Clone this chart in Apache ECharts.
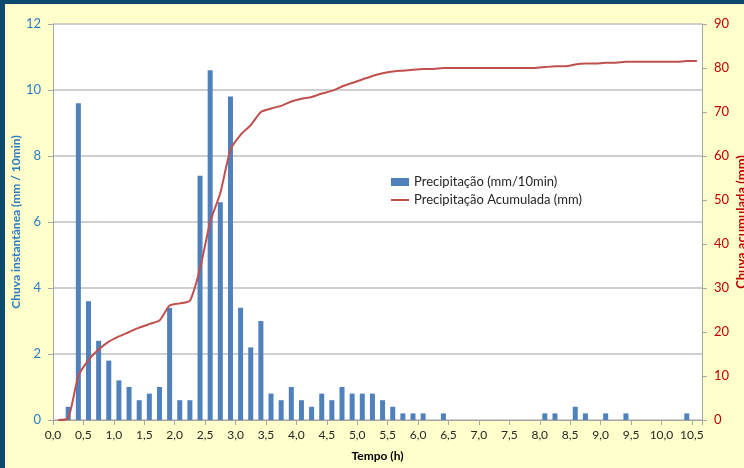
<!DOCTYPE html>
<html>
<head>
<meta charset="utf-8">
<script src="https://cdn.jsdelivr.net/npm/echarts@6/dist/echarts.min.js"></script>
<style>
  html, body { margin: 0; padding: 0; width: 744px; height: 468px; background: #0B4A6E; overflow: hidden; }
  #chart { position: absolute; left: 5px; top: 4px; width: 739px; height: 464px; }
</style>
</head>
<body>
<div id="chart"></div>
<script>
// 10-minute intervals (start minute)
const intervalos = [0,10,20,30,40,50,60,70,80,90,100,110,120,130,140,150,160,170,180,190,
  200,210,220,230,240,250,260,270,280,290,300,310,320,330,340,350,360,370,380,390,
  400,410,420,430,440,450,460,470,480,490,500,510,520,530,540,550,560,570,580,590,
  600,610,620,630];

const precipitacao = [0,0.4,9.6,3.6,2.4,1.8,1.2,1.0,0.6,0.8,
  1.0,3.4,0.6,0.6,7.4,10.6,6.6,9.8,3.4,2.2,
  3.0,0.8,0.6,1.0,0.6,0.4,0.8,0.6,1.0,0.8,
  0.8,0.8,0.6,0.4,0.2,0.2,0.2,0,0.2,0,
  0,0,0,0,0,0,0,0,0.2,0.2,
  0,0.4,0.2,0,0.2,0,0.2,0,0,0,
  0,0,0.2,0];

const acumulada = [0,0.4,10.0,13.6,16.0,17.8,19.0,20.0,21.0,21.8,
  22.6,26.0,26.5,27.1,34.4,45.0,51.6,61.4,64.8,67.0,
  70.0,70.8,71.4,72.4,73.0,73.4,74.2,74.8,75.8,76.6,
  77.4,78.2,78.8,79.2,79.4,79.6,79.8,79.8,80.0,80.0,
  80.0,80.0,80.0,80.0,80.0,80.0,80.0,80.0,80.2,80.4,
  80.4,80.8,81.0,81.0,81.2,81.2,81.4,81.4,81.4,81.4,
  81.4,81.4,81.6,81.6];

const xTickLabels = ['0,0','0,5','1,0','1,5','2,0','2,5','3,0','3,5','4,0','4,5','5,0',
  '5,5','6,0','6,5','7,0','7,5','8,0','8,5','9,0','9,5','10,0','10,5'];
const yLeftTicks = [0,2,4,6,8,10,12];
const yRightTicks = [0,10,20,30,40,50,60,70,80,90];

const FONT = 'Lato, "Open Sans", sans-serif';
const chart = echarts.init(document.getElementById('chart'));
const totalHoras = intervalos.length * 10 / 60;

chart.setOption({
  backgroundColor: '#FFFFCC',
  animation: false,
  textStyle: { fontFamily: FONT },
  grid: {
    left: 48, right: 42, top: 20, bottom: 48,
    containLabel: false, outerBoundsMode: 'none',
    show: true, backgroundColor: '#FFFFFF', borderWidth: 0
  },
  legend: {
    orient: 'vertical',
    left: 381, top: 166,
    itemWidth: 18, itemHeight: 8, itemGap: 4,
    textStyle: { fontFamily: FONT, fontSize: 13, color: '#262626', lineHeight: 14 },
    data: [
      { name: 'Precipitação (mm/10min)', icon: 'rect' },
      { name: 'Precipitação Acumulada (mm)', icon: 'path://M0,0 L18,0 L18,2 L0,2 Z' }
    ]
  },
  xAxis: [
    {
      type: 'category', data: intervalos, boundaryGap: true, show: false, position: 'bottom'
    },
    {
      type: 'value', min: 0, max: totalHoras, interval: 0.5, position: 'bottom',
      name: 'Tempo (h)', nameLocation: 'middle', nameGap: 30, nameMoveOverlap: false,
      nameTextStyle: { fontFamily: FONT, fontWeight: 'bold', fontSize: 12, color: '#000000' },
      axisLine: { show: true, lineStyle: { color: '#A6A6A6', width: 1 } },
      axisTick: { show: true, length: 5, lineStyle: { color: '#A6A6A6' } },
      splitLine: { show: false },
      axisLabel: {
        margin: 9, fontFamily: FONT, fontSize: 12, color: '#262626', showMaxLabel: true,
        formatter: function (v) {
          const k = Math.round(v / 0.5);
          return Math.abs(v - k * 0.5) < 1e-6 && xTickLabels[k] !== undefined ? xTickLabels[k] : '';
        }
      }
    }
  ],
  yAxis: [
    {
      type: 'value', min: yLeftTicks[0], max: yLeftTicks[yLeftTicks.length - 1], interval: 2,
      position: 'left',
      name: 'Chuva instantânea (mm / 10min)', nameLocation: 'middle', nameGap: 31, nameRotate: 90,
      nameMoveOverlap: false,
      nameTextStyle: { fontFamily: FONT, fontWeight: 'bold', fontSize: 12, color: '#2A7BC4' },
      axisLine: { show: true, lineStyle: { color: '#A6A6A6', width: 1 } },
      axisTick: { show: true, length: 5, lineStyle: { color: '#A6A6A6' } },
      splitLine: { show: true, lineStyle: { color: '#BFBFBF', width: 1.5 } },
      axisLabel: { margin: 12, fontFamily: FONT, fontSize: 13, color: '#2A7BC4' }
    },
    {
      type: 'value', min: yRightTicks[0], max: yRightTicks[yRightTicks.length - 1], interval: 10,
      position: 'right',
      name: 'Chuva acumulada (mm)', nameLocation: 'middle', nameGap: 33, nameRotate: 90,
      nameMoveOverlap: false,
      nameTextStyle: { fontFamily: FONT, fontWeight: 'bold', fontSize: 13, color: '#C00000' },
      axisLine: { show: true, lineStyle: { color: '#A6A6A6', width: 1 } },
      axisTick: { show: true, length: 5, lineStyle: { color: '#A6A6A6' } },
      splitLine: { show: false },
      axisLabel: { margin: 12, fontFamily: FONT, fontSize: 13, color: '#C00000' }
    }
  ],
  series: [
    {
      name: 'Precipitação (mm/10min)', type: 'bar', xAxisIndex: 0, yAxisIndex: 0,
      data: precipitacao, barWidth: 5,
      itemStyle: { color: '#4F81BD' }
    },
    {
      name: 'Precipitação Acumulada (mm)', type: 'line', xAxisIndex: 0, yAxisIndex: 1,
      data: acumulada, symbol: 'none', smooth: 0.2,
      lineStyle: { color: '#C0504D', width: 2 }, itemStyle: { color: '#C0504D' }
    }
  ]
});
</script>
</body>
</html>
